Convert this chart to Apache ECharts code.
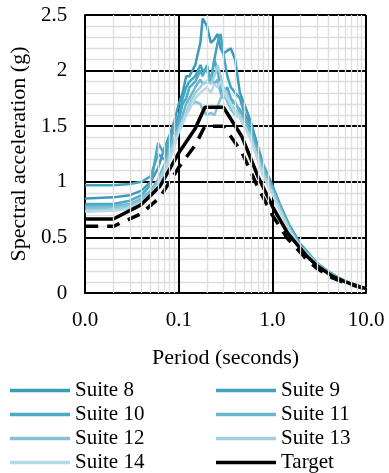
<!DOCTYPE html>
<html><head><meta charset="utf-8">
<script src="https://cdn.jsdelivr.net/npm/echarts@6/dist/echarts.min.js"></script>
<style>html,body{margin:0;padding:0;background:#fff}#c{width:389px;height:473px}</style>
</head><body><div id="c"></div>
<script>
const periods = [0.01,0.02,0.03,0.04,0.05,0.06,0.07,0.08,0.09,0.1,0.11,0.12,0.13,0.15,0.17,0.18,0.2,0.22,0.24,0.26,0.28,0.3,0.33,0.36,0.4,0.45,0.5,0.6,0.7,0.8,1.0,1.2,1.5,2,3,4,5,7,10];
const suite8  = [.85,.86,.88,.92,1.0,1.12,1.3,1.42,1.55,1.7,1.8,1.95,1.95,2.05,2.25,2.47,2.4,2.25,2.28,2.33,2.2,2.15,2.18,2.2,2.1,1.8,1.7,1.52,1.3,1.15,.97,.8,.62,.44,.27,.19,.14,.08,.04];
const suite9  = [.97,.97,.98,1.0,1.05,1.25,1.2,1.35,1.5,1.6,1.75,1.85,1.9,1.95,2.05,2.0,2.0,1.9,2.1,2.25,2.33,2.15,1.95,1.85,1.8,1.75,1.62,1.5,1.32,1.15,.95,.78,.6,.43,.27,.19,.14,.08,.04];
const suite10 = [.8,.8,.83,.88,.97,1.35,1.25,1.4,1.45,1.55,1.7,1.75,1.85,1.9,2.0,1.95,2.05,1.9,2.1,2.0,1.85,1.8,1.85,1.75,1.7,1.65,1.58,1.45,1.25,1.1,.93,.77,.59,.42,.26,.18,.13,.08,.04];
const suite11 = [.78,.78,.8,.85,.92,1.02,1.15,1.3,1.4,1.5,1.6,1.7,1.75,1.85,1.92,1.88,1.9,1.95,1.88,1.92,1.8,1.75,1.8,1.7,1.72,1.62,1.55,1.42,1.25,1.12,.94,.78,.6,.42,.27,.19,.14,.08,.04];
const suite12 = [.76,.77,.79,.84,.9,1.0,1.12,1.25,1.38,1.48,1.55,1.6,1.68,1.72,1.7,1.65,1.6,1.62,1.6,1.68,1.75,1.8,1.72,1.65,1.6,1.58,1.5,1.38,1.22,1.08,.91,.76,.58,.41,.26,.18,.13,.08,.04];
const suite13 = [.74,.75,.77,.82,.88,.98,1.1,1.22,1.35,1.45,1.55,1.62,1.7,1.8,1.85,1.88,1.9,1.88,1.95,2.05,1.95,1.85,1.78,1.7,1.65,1.6,1.52,1.38,1.2,1.06,.9,.75,.58,.41,.26,.18,.13,.08,.04];
const suite14 = [.73,.74,.76,.8,.86,.95,1.07,1.2,1.32,1.45,1.52,1.6,1.65,1.75,1.8,1.82,1.85,1.8,1.88,1.85,1.9,1.82,1.75,1.7,1.62,1.57,1.5,1.36,1.2,1.05,.89,.74,.57,.4,.25,.18,.13,.08,.04];
const targetPeriods = [0.01,0.02,0.039,0.063,0.1,0.15,0.19,0.3,0.47,0.7,1.0,1.45,2.34,3.0,4.4,6,10];
const target   = [.665,.665,.79,.96,1.26,1.48,1.67,1.67,1.41,1.05,.78,.54,.33,.245,.15,.10,.04];
const target90 = [.6,.6,.71,.86,1.13,1.33,1.5,1.5,1.27,.95,.7,.49,.3,.22,.135,.09,.036];
const minorPeriods = [0.02,0.03,0.04,0.05,0.06,0.07,0.08,0.09,0.2,0.3,0.4,0.5,0.6,0.7,0.8,0.9,2,3,4,5,6,7,8,9];
const xTicks = ['0.0','0.1','1.0','10.0'];

const suiteNames = ['Suite 8','Suite 9','Suite 10','Suite 11','Suite 12','Suite 13','Suite 14'];
const suiteData = [suite8,suite9,suite10,suite11,suite12,suite13,suite14];
const suiteColors = ['#3a9bb8','#41a3c0','#4aaac6','#6ab6cf','#85c2d6','#a0cfdf','#b5dae6'];
const FONT = "'Liberation Serif', 'Times New Roman', 'DejaVu Serif', serif";

const series = [{
  name: 'grid', type: 'line', data: [], silent: true, z: 1,
  markLine: { silent: true, symbol: ['none','none'], label: {show:false},
    lineStyle: { color: '#dedede', width: 1.3, type: 'solid' },
    data: minorPeriods.map(v => ({ xAxis: v })) }
}];
suiteData.forEach((d,i) => series.push({
  name: suiteNames[i], type: 'line', symbol: 'none', z: 3,
  data: periods.map((p,j) => [p, d[j]]),
  lineStyle: { color: suiteColors[i], width: 2.5 }, itemStyle: { color: suiteColors[i] }
}));
series.push({ name: 'Target', type: 'line', symbol: 'none', z: 4,
  data: targetPeriods.map((p,j) => [p, target[j]]),
  lineStyle: { color: '#000', width: 3.5 }, itemStyle: { color: '#000' } });
series.push({ name: '90% Target', type: 'line', symbol: 'none', z: 4,
  data: targetPeriods.map((p,j) => [p, target90[j]]),
  lineStyle: { color: '#000', width: 3.5, type: [13, 9] }, itemStyle: { color: '#000' } });

const legendCommon = { orient: 'vertical', top: 380, height: 120, itemWidth: 60, itemHeight: 14, itemGap: 3,
  textStyle: { fontFamily: FONT, fontSize: 21, color: '#000', lineHeight: 20, padding: [0,0,0,0] },
  padding: 0, icon: 'path://M0,6 L60,6 L60,9.5 L0,9.5 Z' };

const chart = echarts.init(document.getElementById('c'));
chart.setOption({
  animation: false,
  backgroundColor: '#fff',
  grid: { left: 80, right: 23, top: 15, bottom: 180 },
  legend: [
    Object.assign({}, legendCommon, { left: 10, data: ['Suite 8','Suite 10','Suite 12','Suite 14'] }),
    Object.assign({}, legendCommon, { left: 216, data: ['Suite 9','Suite 11','Suite 13','Target'] })
  ],
  xAxis: {
    type: 'log', logBase: 10, min: 0.01, max: 10,
    name: 'Period (seconds)', nameLocation: 'middle', nameGap: 54,
    nameTextStyle: { fontFamily: FONT, fontSize: 22, color: '#000' },
    axisLine: { show: true, lineStyle: { color: '#000', width: 2 } },
    axisTick: { show: false },
    axisLabel: { fontFamily: FONT, fontSize: 21, color: '#000', margin: 17,
      formatter: v => xTicks[Math.round(Math.log10(v)) + 2] },
    splitLine: { show: true, lineStyle: { color: '#000', width: 2 } }
  },
  yAxis: {
    type: 'value', min: 0, max: 2.5, interval: 0.5,
    name: 'Spectral acceleration (g)', nameLocation: 'middle', nameGap: 54,
    nameTextStyle: { fontFamily: FONT, fontSize: 22, color: '#000' },
    axisLine: { show: true, lineStyle: { color: '#000', width: 2 } },
    axisTick: { show: false },
    axisLabel: { fontFamily: FONT, fontSize: 21, color: '#000', margin: 18, formatter: v => String(v) },
    splitLine: { show: true, lineStyle: { color: '#000', width: 2 } },
    minorTick: { show: false, splitNumber: 5 },
    minorSplitLine: { show: true, lineStyle: { color: '#dedede', width: 1.3 } }
  },
  series: series
});
</script></body></html>
